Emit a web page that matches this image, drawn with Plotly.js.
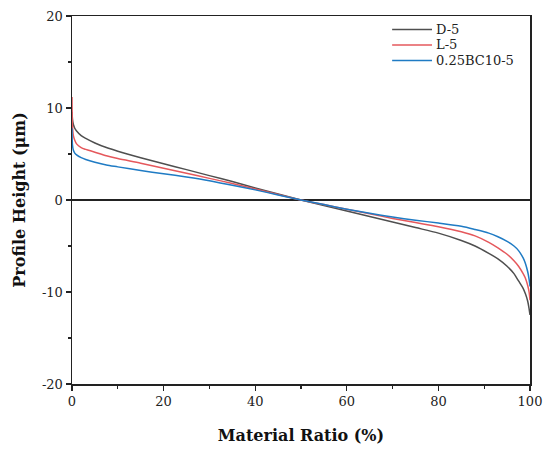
<!DOCTYPE html>
<html>
<head>
<meta charset="utf-8">
<script src="https://cdn.plot.ly/plotly-3.0.1.min.js"></script>
<style>html,body{margin:0;padding:0;background:#fff;}#chart{width:550px;height:453px;}</style>
</head>
<body>
<div id="chart"></div>
<script>
// Material ratio (%) sample positions
var materialRatio = [0, 0.1, 0.3, 0.6, 1, 2, 3, 5, 7.5, 10, 15, 20, 25, 30, 35, 40, 45, 50, 55, 60, 65, 70, 75, 80, 85, 88, 91, 93, 95, 96.5, 97.5, 98.5, 99, 99.5, 99.8, 100];
// Profile height (µm) for each sample
var heightD5 = [9.6, 8.8, 8.2, 7.8, 7.5, 7.0, 6.7, 6.2, 5.7, 5.3, 4.6, 3.95, 3.3, 2.65, 2.0, 1.3, 0.65, 0.0, -0.6, -1.2, -1.8, -2.4, -3.0, -3.6, -4.4, -5.0, -5.8, -6.4, -7.2, -8.0, -8.8, -9.6, -10.2, -11.0, -11.8, -12.5];
var heightL5 = [11.2, 8.0, 7.0, 6.5, 6.1, 5.7, 5.5, 5.2, 4.8, 4.5, 4.0, 3.45, 2.9, 2.35, 1.8, 1.2, 0.6, 0.0, -0.5, -1.0, -1.5, -2.0, -2.45, -2.9, -3.45, -3.9, -4.6, -5.2, -5.9, -6.6, -7.2, -8.0, -8.5, -9.3, -10.0, -10.9];
var heightBC = [7.8, 6.0, 5.4, 5.1, 4.9, 4.6, 4.4, 4.1, 3.8, 3.6, 3.2, 2.85, 2.5, 2.1, 1.6, 1.1, 0.55, 0.0, -0.5, -1.0, -1.45, -1.85, -2.2, -2.5, -2.85, -3.2, -3.6, -4.0, -4.5, -5.0, -5.5, -6.3, -6.9, -7.8, -8.6, -9.4];
var seriesNames = ["D-5", "L-5", "0.25BC10-5"];
var seriesColors = ["#4f4f4f", "#e5585c", "#1f7bc4"];
var yTickVals = [-20, -10, 0, 10, 20];
var yTickText = ["-20", "-10", "0", "10", "20"];
var xTickVals = [0, 20, 40, 60, 80, 100];

var series = [heightD5, heightL5, heightBC];
var traces = series.map(function (ys, i) {
  return {
    x: materialRatio, y: ys, type: "scatter", mode: "lines", name: seriesNames[i],
    line: { color: seriesColors[i], width: 1.5, shape: "spline", smoothing: 0.8 }
  };
});

var serif = "DejaVu Serif, Liberation Serif, serif";

// compact legend (line samples + real text), in paper coordinates
var legendShapes = [], legendNotes = [];
seriesNames.forEach(function (nm, i) {
  var yy = 0.9633 - i * 0.0421;
  legendShapes.push({ type: "line", xref: "paper", yref: "paper", x0: 0.699, x1: 0.786, y0: yy, y1: yy,
    line: { color: seriesColors[i], width: 1.5 } });
  legendNotes.push({ xref: "paper", yref: "paper", x: 0.792, y: yy, xanchor: "left", yanchor: "middle",
    text: nm, showarrow: false, borderpad: 0, font: { family: serif, size: 13, color: "#222" } });
});

var layout = {
  width: 550, height: 453,
  margin: { l: 72, r: 20, t: 16, b: 69 },
  paper_bgcolor: "#fff", plot_bgcolor: "#fff",
  font: { family: serif, size: 13, color: "#222" },
  showlegend: false,
  shapes: legendShapes,
  annotations: legendNotes,
  xaxis: {
    range: [0, 100], tickvals: xTickVals, ticks: "outside", ticklen: 5, tickwidth: 1.2, tickcolor: "#222",
    showline: true, linecolor: "#222", linewidth: 1.5, mirror: true, showgrid: false, zeroline: false,
    minor: { dtick: 10, ticks: "outside", ticklen: 3, tickwidth: 1.2, tickcolor: "#222", showgrid: false },
    title: { text: "<b>Material Ratio (%)</b>", font: { family: serif, size: 16, color: "#111" }, standoff: 21 }
  },
  yaxis: {
    range: [-20, 20], tickvals: yTickVals, ticktext: yTickText, ticks: "outside", ticklen: 5, tickwidth: 1.2, tickcolor: "#222",
    showline: true, linecolor: "#222", linewidth: 1.5, mirror: true, showgrid: false,
    zeroline: true, zerolinecolor: "#222", zerolinewidth: 1.5,
    minor: { dtick: 5, ticks: "outside", ticklen: 3, tickwidth: 1.2, tickcolor: "#222", showgrid: false },
    title: { text: "<b>Profile Height (μm)</b>", font: { family: serif, size: 16, color: "#111" }, standoff: 12 }
  }
};

Plotly.newPlot("chart", traces, layout, { displayModeBar: false, staticPlot: true });
</script>
</body>
</html>
